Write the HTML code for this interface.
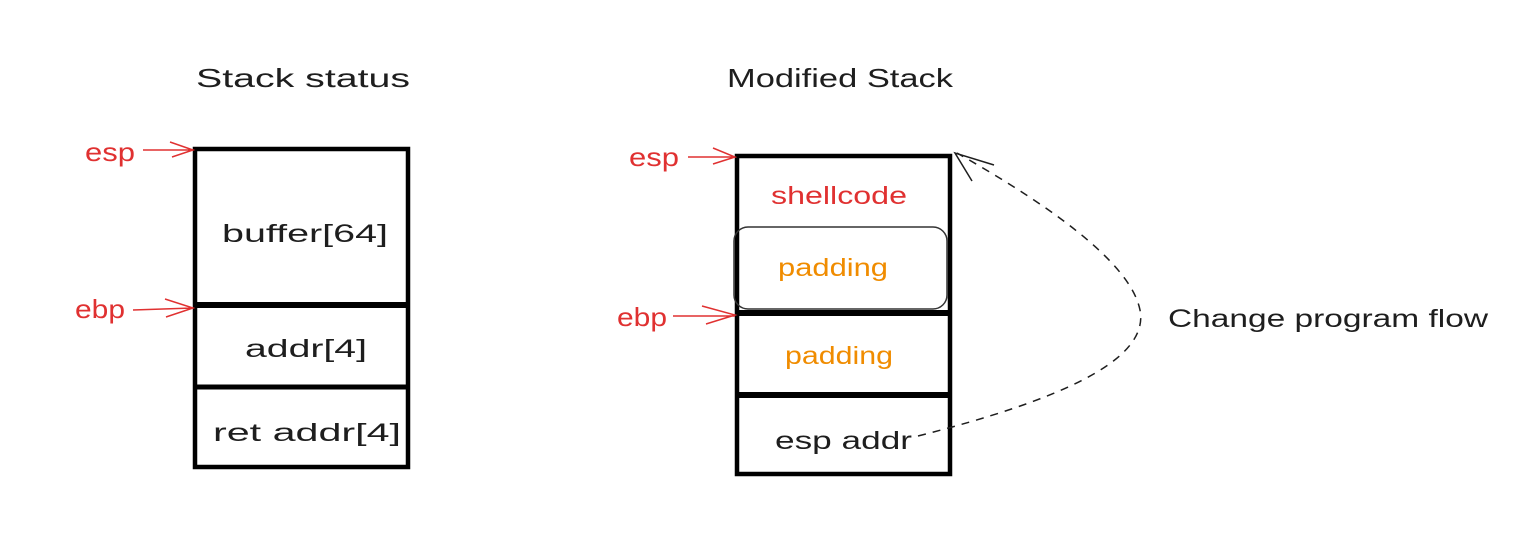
<!DOCTYPE html>
<html><head><style>
body{margin:0;background:#fff;}
svg{display:block}
text{font-family:"Liberation Sans",sans-serif;}
</style></head><body>
<svg width="1520" height="555" viewBox="0 0 1520 555" xmlns="http://www.w3.org/2000/svg">
<rect width="1520" height="555" fill="#fff"/>
<g font-size="26" fill="#1e1e1e">
<text x="196" y="87" textLength="214" lengthAdjust="spacingAndGlyphs">Stack status</text>
<text x="727" y="87" textLength="226" lengthAdjust="spacingAndGlyphs">Modified Stack</text>
</g>
<g stroke="#000" stroke-width="4.5" fill="none">
<rect x="195" y="149" width="213" height="318"/>
<line x1="195" y1="305" x2="408" y2="305" stroke-width="6"/>
<line x1="195" y1="387" x2="408" y2="387" stroke-width="5"/>
</g>
<g font-size="25" fill="#1e1e1e">
<text x="222" y="242" textLength="166" lengthAdjust="spacingAndGlyphs">buffer[64]</text>
<text x="245" y="357" textLength="122" lengthAdjust="spacingAndGlyphs">addr[4]</text>
<text x="213" y="441" textLength="188" lengthAdjust="spacingAndGlyphs">ret addr[4]</text>
</g>
<g stroke="#000" stroke-width="4.5" fill="none">
<rect x="737" y="156" width="213" height="318"/>
<line x1="737" y1="313" x2="950" y2="313" stroke-width="6"/>
<line x1="737" y1="395" x2="950" y2="395" stroke-width="6"/>
<rect x="734" y="227" width="213" height="82" rx="14" stroke-width="1.5" stroke="#333"/>
</g>
<g font-size="25">
<text x="771" y="204" fill="#e03131" textLength="136" lengthAdjust="spacingAndGlyphs">shellcode</text>
<text x="778" y="276" fill="#f08c00" textLength="110" lengthAdjust="spacingAndGlyphs">padding</text>
<text x="785" y="364" fill="#f08c00" textLength="108" lengthAdjust="spacingAndGlyphs">padding</text>
<text x="775" y="449" fill="#1e1e1e" textLength="137" lengthAdjust="spacingAndGlyphs">esp addr</text>
<text x="1168" y="327" fill="#1e1e1e" textLength="320" lengthAdjust="spacingAndGlyphs">Change program flow</text>
</g>
<g font-size="26" fill="#e03131">
<text x="85" y="161" textLength="50" lengthAdjust="spacingAndGlyphs">esp</text>
<text x="75" y="318" textLength="50" lengthAdjust="spacingAndGlyphs">ebp</text>
<text x="629" y="166" textLength="50" lengthAdjust="spacingAndGlyphs">esp</text>
<text x="617" y="326" textLength="50" lengthAdjust="spacingAndGlyphs">ebp</text>
</g>
<g stroke="#e03131" stroke-width="1.5" fill="none">
<path d="M143 150 L193 150 M170 142 L193 150 L172 157"/>
<path d="M133 310 L193 308 M165 299 L193 308 L166 317"/>
<path d="M688 157 L735 157 M713 148 L735 157 L713 164"/>
<path d="M673 316 L735 316 M702 306 L735 315 L706 324"/>
</g>
<path d="M918 436 C1060 400 1150 360 1140 310 C1130 260 1040 200 957 153" stroke="#1e1e1e" stroke-width="1.5" fill="none" stroke-dasharray="8 7"/>
<path d="M972 181 L955 153 L994 165" stroke="#1e1e1e" stroke-width="1.5" fill="none"/>
</svg>
</body></html>
